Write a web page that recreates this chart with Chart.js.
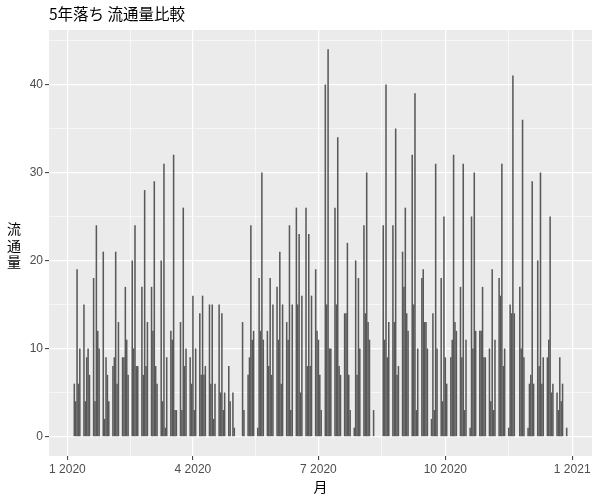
<!DOCTYPE html>
<html>
<head>
<meta charset="utf-8">
<script src="https://cdn.jsdelivr.net/npm/chart.js@4.4.1/dist/chart.umd.min.js"></script>
<style>
  html, body { margin: 0; padding: 0; background: #fff; }
</style>
</head>
<body>
<canvas id="myChart" width="600" height="500"></canvas>
<script>
const titleText = "5年落ち 流通量比較";
const xTitle = "月";
const yTitle = ["流", "通", "量"];

// day index 0 = 2020-01-01, first Monday with data = 2020-01-06
const firstMonday = 5;
// Mon..Fri values per week
const volumeByWeek = [
    [6, 4, 19, 6, 10],     // Jan 6
    [15, 4, 9, 10, 7],     // Jan 13
    [18, 4, 24, 12, 10],   // Jan 20
    [21, 2, 9, 7, 4],      // Jan 27
    [8, 9, 21, 6, 13],     // Feb 3
    [9, 9, 17, 11, 7],     // Feb 10
    [20, 10, 24, 8, 8],    // Feb 17
    [17, 7, 28, 8, 13],    // Feb 24
    [17, 12, 29, 8, 6],    // Mar 2
    [20, 4, 31, 1, 9],     // Mar 9
    [12, 11, 32, 3, 3],    // Mar 16
    [13, 3, 26, 8, 10],    // Mar 23
    [9, 6, 16, 3, 10],     // Mar 30
    [14, 7, 16, 7, 8],     // Apr 6
    [15, 6, 15, 2, 6],     // Apr 13
    [15, 5, 14, 3, 5],     // Apr 20
    [8, 4, 0, 5, 1],       // Apr 27
    [0, 0, 0, 13, 3],      // May 4
    [7, 9, 24, 11, 12],    // May 11
    [1, 18, 12, 30, 11],   // May 18
    [12, 8, 18, 7, 15],    // May 25
    [17, 11, 21, 6, 15],   // Jun 1
    [13, 11, 24, 3, 15],   // Jun 8
    [26, 15, 23, 5, 16],   // Jun 15
    [26, 8, 23, 8, 16],    // Jun 22
    [19, 12, 11, 7, 3],    // Jun 29
    [40, 15, 44, 10, 10],  // Jul 6
    [26, 15, 34, 8, 7],    // Jul 13
    [14, 14, 22, 7, 3],    // Jul 20
    [1, 20, 7, 18, 10],    // Jul 27
    [24, 14, 30, 13, 11],  // Aug 3
    [3, 0, 0, 0, 0],       // Aug 10
    [24, 11, 40, 9, 13],   // Aug 17
    [24, 13, 35, 7, 8],    // Aug 24
    [21, 17, 26, 14, 12],  // Aug 31
    [32, 15, 39, 3, 10],   // Sep 7
    [18, 19, 13, 13, 10],  // Sep 14
    [2, 14, 3, 31, 10],    // Sep 21
    [18, 4, 25, 9, 6],     // Sep 28
    [9, 11, 32, 13, 12],   // Oct 5
    [17, 9, 31, 3, 11],    // Oct 12
    [1, 25, 10, 30, 12],   // Oct 19
    [12, 12, 17, 9, 9],    // Oct 26
    [10, 4, 19, 3, 11],    // Nov 2
    [18, 16, 31, 8, 10],   // Nov 9
    [1, 15, 14, 41, 14],   // Nov 16
    [0, 17, 10, 36, 9],    // Nov 23
    [1, 6, 7, 29, 6],      // Nov 30
    [20, 8, 30, 6, 9],     // Dec 7
    [9, 11, 25, 5, 6],     // Dec 14
    [5, 3, 9, 4, 6],       // Dec 21
    [1]                    // Dec 28
];

const tickDays = [0, 91, 182, 274, 366];
const tickLabels = ["1 2020", "4 2020", "7 2020", "10 2020", "1 2021"];
const yMajor = [0, 10, 20, 30, 40];

// build points (zero days draw nothing, so leave them out)
let points = [];
volumeByWeek.forEach((week, w) => {
    week.forEach((v, i) => {
        if (v > 0) points.push({ x: firstMonday + w * 7 + i, y: v });
    });
});

// minor breaks halfway between the majors
let xTicks = [];
for (let i = 0; i < tickDays.length; i++) {
    xTicks.push(tickDays[i]);
    if (i < tickDays.length - 1) xTicks.push((tickDays[i] + tickDays[i + 1]) / 2);
}
let yTicks = [];
for (let i = 0; i < yMajor.length; i++) {
    yTicks.push(yMajor[i]);
    yTicks.push(yMajor[i] + 5);
}

const axisFont = { family: '"Liberation Sans", Arial, sans-serif', size: 12 };
const cjk = '"Noto Sans CJK JP", sans-serif';

const ggPanel = {
    id: 'ggPanel',
    beforeDraw(chart) {
        const { ctx, chartArea: a } = chart;
        ctx.save();
        ctx.fillStyle = '#EBEBEB';
        ctx.fillRect(a.left, a.top, a.right - a.left, a.bottom - a.top);
        ctx.restore();
    },
    afterDraw(chart) {
        const { ctx, chartArea: a } = chart;
        ctx.save();
        ctx.fillStyle = '#000';
        ctx.textBaseline = 'middle';
        ctx.font = '15.5px ' + cjk;
        ctx.textAlign = 'left';
        ctx.fillText(titleText, a.left, 14);
        ctx.font = '14px ' + cjk;
        ctx.textAlign = 'center';
        ctx.fillText(xTitle, (a.left + a.right) / 2, 487);
        yTitle.forEach((ch, i) => {
            ctx.fillText(ch, 14, 229 + i * 16.5);
        });
        ctx.restore();
    }
};

var ctx = document.getElementById('myChart').getContext('2d');
var myChart = new Chart(ctx, {
    type: 'bar',
    data: {
        datasets: [{
            label: '流通量',
            data: points,
            backgroundColor: '#595959',
            borderWidth: 0,
            inflateAmount: 0.15,
            barPercentage: 0.9,
            categoryPercentage: 1.0
        }]
    },
    options: {
        responsive: false,
        animation: false,
        devicePixelRatio: 1,
        layout: { padding: { top: 30, right: 8, left: 0, bottom: 0 } },
        plugins: {
            legend: { display: false },
            tooltip: { enabled: false },
            title: { display: false }
        },
        scales: {
            x: {
                type: 'linear',
                min: -13.35,
                max: 380.35,
                offset: false,
                afterBuildTicks: s => { s.ticks = xTicks.map(v => ({ value: v })); },
                afterFit: s => { s.height = 44; },
                ticks: {
                    autoSkip: false,
                    maxRotation: 0,
                    padding: 2,
                    color: '#4D4D4D',
                    font: axisFont,
                    callback: v => {
                        let i = tickDays.indexOf(v);
                        return i >= 0 ? tickLabels[i] : '';
                    }
                },
                grid: {
                    offset: false,
                    color: '#FFFFFF',
                    lineWidth: c => tickDays.includes(c.tick.value) ? 1.2 : 0.6,
                    drawTicks: true,
                    tickLength: 4,
                    tickWidth: 1,
                    tickColor: c => tickDays.includes(c.tick.value) ? '#333333' : 'rgba(0,0,0,0)'
                },
                border: { display: false }
            },
            y: {
                min: -2.2,
                max: 46.2,
                afterBuildTicks: s => { s.ticks = yTicks.map(v => ({ value: v })); },
                afterFit: s => { s.width = 49; },
                ticks: {
                    padding: 2,
                    color: '#4D4D4D',
                    font: axisFont,
                    callback: v => yMajor.includes(v) ? String(v) : ''
                },
                grid: {
                    color: '#FFFFFF',
                    lineWidth: c => yMajor.includes(c.tick.value) ? 1.2 : 0.6,
                    drawTicks: true,
                    tickLength: 4,
                    tickWidth: 1,
                    tickColor: c => yMajor.includes(c.tick.value) ? '#333333' : 'rgba(0,0,0,0)'
                },
                border: { display: false }
            }
        }
    },
    plugins: [ggPanel]
});
</script>
</body>
</html>
